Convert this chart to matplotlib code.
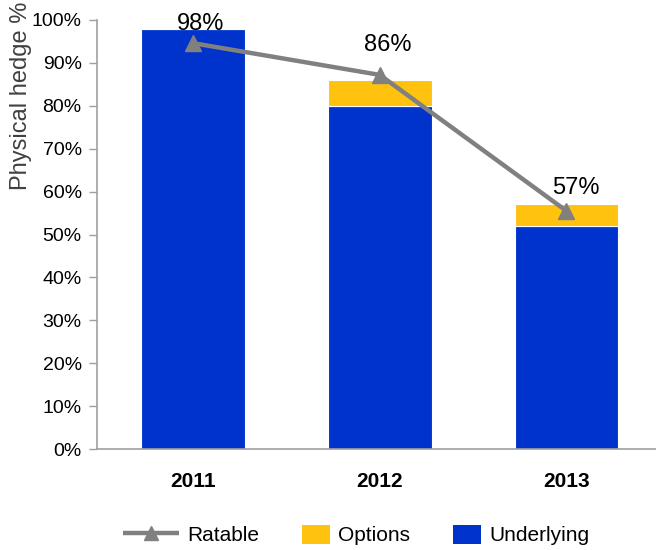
import matplotlib
matplotlib.use("Agg")
import matplotlib.pyplot as plt
from matplotlib.lines import Line2D
from matplotlib.patches import Patch, Rectangle
from matplotlib.legend_handler import HandlerPatch
import numpy as np

plt.rcParams['font.family'] = ['Liberation Sans', 'DejaVu Sans']

years = ["2011", "2012", "2013"]
underlying = [98, 80, 52]
options = [0, 6, 5]
ratable = [94.6, 87.2, 55.5]
total_labels = ["98%", "86%", "57%"]
y_ticks = [0, 10, 20, 30, 40, 50, 60, 70, 80, 90, 100]

blue = "#0033CC"
yellow = "#FFC20E"
grey = "#808080"
axis_grey = "#A0A0A0"

fig = plt.figure(figsize=(6.56, 5.5), dpi=100)
ax = fig.add_axes([97 / 656, 1 - 449 / 550, 1 - 97 / 656, (449 - 20) / 550])

x = np.arange(len(years))
width = 0.555
ax.bar(x, underlying, width, color=blue, edgecolor="white", linewidth=0.8, zorder=2)
ax.bar(x, options, width, bottom=underlying, color=yellow, edgecolor="white",
       linewidth=0.8, zorder=2)
ax.plot(x, ratable, color=grey, linewidth=3.2, marker="^", markersize=11,
        zorder=3, solid_capstyle="butt")

# value labels above each stacked total
totals = [u + o for u, o in zip(underlying, options)]
label_offsets = [(5, 3.0), (6, 25.0), (6.5, 11.8)]
for xi, tot, lab, off in zip(x, totals, total_labels, label_offsets):
    ax.annotate(lab, (xi, tot), xytext=off, textcoords="offset points",
                ha="center", va="center", fontsize=17, color="black")

ax.set_xlim(-0.515, 2.48)
ax.set_ylim(0, 100)
ax.set_yticks(y_ticks)
ax.set_yticklabels([f"{t}%" for t in y_ticks], fontsize=14)
ax.set_xticks(x)
ax.set_xticklabels(years, fontsize=15, fontweight="bold")
ax.tick_params(axis="x", length=0, pad=16.5)
ax.tick_params(axis="y", length=6, width=1, color=axis_grey, pad=5)

for side in ["top", "right"]:
    ax.spines[side].set_visible(False)
for side in ["left", "bottom"]:
    ax.spines[side].set_color(axis_grey)
    ax.spines[side].set_linewidth(1.2)

fig.text(21 / 656, 1 - 96 / 550, "Physical hedge %", rotation=90,
         ha="center", va="center", fontsize=17, color="#404040")


def box_patch(legend, orig_handle, xdescent, ydescent, width, height, fontsize):
    # wide swatch, right-aligned inside the handle slot
    w, h = 20.5, 13.7
    return Rectangle((width - w - xdescent, -ydescent + (height - h) / 2), w, h)


handles = [
    Line2D([0], [0], color=grey, linewidth=3.2, marker="^", markersize=10,
           solid_capstyle="butt"),
    Patch(facecolor=yellow),
    Patch(facecolor=blue),
]
fig.legend(handles, ["Ratable", "Options", "Underlying"], loc="center",
           bbox_to_anchor=(0.543, 1 - 535 / 550), ncol=3, frameon=False,
           fontsize=15, handlelength=2.7, handleheight=1.0, columnspacing=0.7,
           handletextpad=0.4,
           handler_map={Patch: HandlerPatch(patch_func=box_patch)})

fig.savefig("out.png", dpi=100)
